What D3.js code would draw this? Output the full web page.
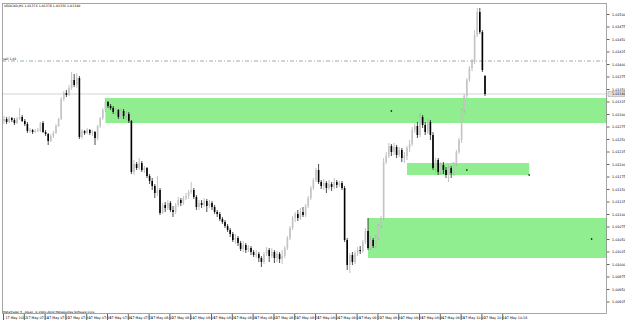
<!DOCTYPE html>
<html>
<head>
<meta charset="utf-8">
<script src="https://cdn.jsdelivr.net/npm/d3@7"></script>
<style>
body { margin: 0; background: #fff; }
text { font-family: "DejaVu Sans", sans-serif; }
</style>
</head>
<body>
<div id="app"></div>
<script>
const symbol = "USDCAD,M1";
const copyright = "MetaTrader 5 , Alpari, \u00a9 2001-2012 MetaQuotes Software Corp.";

// one candle per minute: [open, high, low, close]
const candles = [
  [1.01286,1.01296,1.01280,1.01290],[1.01290,1.01294,1.01280,1.01284],[1.01284,1.01296,1.01282,1.01292],[1.01292,1.01294,1.01284,1.01288],
  [1.01288,1.01292,1.01278,1.01282],[1.01282,1.01294,1.01280,1.01290],[1.01290,1.01312,1.01288,1.01294],[1.01294,1.01298,1.01284,1.01286],
  [1.01286,1.01290,1.01276,1.01280],[1.01280,1.01284,1.01262,1.01266],[1.01266,1.01272,1.01262,1.01268],[1.01268,1.01270,1.01260,1.01264],
  [1.01264,1.01270,1.01262,1.01266],[1.01266,1.01272,1.01264,1.01268],[1.01266,1.01284,1.01264,1.01282],[1.01282,1.01286,1.01262,1.01264],
  [1.01264,1.01268,1.01256,1.01260],[1.01260,1.01262,1.01238,1.01246],[1.01246,1.01260,1.01244,1.01256],[1.01256,1.01266,1.01252,1.01262],
  [1.01262,1.01280,1.01260,1.01276],[1.01276,1.01292,1.01274,1.01290],[1.01290,1.01334,1.01288,1.01330],[1.01330,1.01346,1.01326,1.01342],
  [1.01342,1.01348,1.01334,1.01338],[1.01338,1.01358,1.01336,1.01352],[1.01352,1.01384,1.01348,1.01368],[1.01368,1.01380,1.01354,1.01358],
  [1.01358,1.01382,1.01352,1.01372],[1.01372,1.01376,1.01250,1.01254],[1.01254,1.01270,1.01250,1.01266],[1.01266,1.01268,1.01258,1.01262],
  [1.01262,1.01272,1.01260,1.01268],[1.01268,1.01270,1.01258,1.01262],[1.01262,1.01268,1.01256,1.01264],[1.01264,1.01266,1.01238,1.01252],
  [1.01252,1.01278,1.01248,1.01276],[1.01276,1.01294,1.01272,1.01292],[1.01292,1.01312,1.01288,1.01308],[1.01308,1.01332,1.01304,1.01324],
  [1.01324,1.01326,1.01312,1.01316],[1.01316,1.01320,1.01308,1.01312],[1.01312,1.01316,1.01300,1.01304],[1.01304,1.01312,1.01298,1.01308],
  [1.01308,1.01310,1.01290,1.01294],[1.01294,1.01312,1.01292,1.01306],[1.01306,1.01310,1.01290,1.01296],[1.01296,1.01306,1.01288,1.01300],
  [1.01300,1.01304,1.01282,1.01286],[1.01286,1.01288,1.01180,1.01184],[1.01184,1.01208,1.01178,1.01200],[1.01200,1.01204,1.01188,1.01192],
  [1.01192,1.01212,1.01188,1.01202],[1.01202,1.01206,1.01184,1.01188],[1.01188,1.01196,1.01182,1.01192],[1.01192,1.01194,1.01172,1.01176],
  [1.01176,1.01180,1.01160,1.01166],[1.01166,1.01172,1.01148,1.01156],[1.01156,1.01160,1.01132,1.01142],[1.01142,1.01176,1.01136,1.01148],
  [1.01148,1.01152,1.01098,1.01102],[1.01102,1.01122,1.01100,1.01118],[1.01118,1.01124,1.01104,1.01112],[1.01112,1.01128,1.01108,1.01122],
  [1.01122,1.01126,1.01104,1.01108],[1.01108,1.01116,1.01094,1.01104],[1.01104,1.01122,1.01100,1.01118],[1.01118,1.01134,1.01114,1.01128],
  [1.01128,1.01132,1.01116,1.01122],[1.01122,1.01136,1.01118,1.01132],[1.01132,1.01142,1.01128,1.01136],[1.01136,1.01148,1.01130,1.01144],
  [1.01144,1.01164,1.01140,1.01148],[1.01148,1.01152,1.01130,1.01134],[1.01134,1.01138,1.01108,1.01114],[1.01114,1.01128,1.01108,1.01122],
  [1.01122,1.01128,1.01112,1.01118],[1.01118,1.01132,1.01114,1.01126],[1.01126,1.01130,1.01104,1.01116],[1.01116,1.01128,1.01112,1.01122],
  [1.01122,1.01126,1.01108,1.01114],[1.01114,1.01118,1.01100,1.01104],[1.01104,1.01108,1.01094,1.01100],[1.01100,1.01104,1.01086,1.01090],
  [1.01090,1.01094,1.01080,1.01084],[1.01084,1.01088,1.01072,1.01076],[1.01076,1.01080,1.01064,1.01068],[1.01068,1.01072,1.01054,1.01060],
  [1.01060,1.01064,1.01044,1.01048],[1.01048,1.01060,1.01040,1.01052],[1.01052,1.01056,1.01036,1.01042],[1.01042,1.01046,1.01026,1.01030],
  [1.01030,1.01046,1.01024,1.01038],[1.01038,1.01042,1.01022,1.01028],[1.01028,1.01038,1.01024,1.01032],[1.01032,1.01036,1.01018,1.01024],
  [1.01024,1.01028,1.01014,1.01018],[1.01018,1.01028,1.01012,1.01020],[1.01020,1.01024,1.01004,1.01012],[1.01012,1.01016,1.00994,1.01004],
  [1.01004,1.01024,1.01000,1.01020],[1.01020,1.01034,1.01016,1.01028],[1.01028,1.01032,1.01004,1.01016],[1.01016,1.01032,1.01012,1.01024],
  [1.01024,1.01028,1.01002,1.01012],[1.01012,1.01026,1.01004,1.01020],[1.01020,1.01024,1.01002,1.01010],[1.01010,1.01028,1.01000,1.01016],
  [1.01016,1.01036,1.01012,1.01032],[1.01032,1.01056,1.01028,1.01052],[1.01052,1.01076,1.01048,1.01072],[1.01072,1.01096,1.01068,1.01092],
  [1.01092,1.01104,1.01084,1.01100],[1.01100,1.01108,1.01086,1.01092],[1.01092,1.01112,1.01088,1.01104],[1.01104,1.01114,1.01094,1.01098],
  [1.01098,1.01120,1.01094,1.01116],[1.01116,1.01136,1.01112,1.01132],[1.01132,1.01156,1.01128,1.01152],[1.01152,1.01172,1.01148,1.01168],
  [1.01168,1.01192,1.01164,1.01188],[1.01188,1.01200,1.01160,1.01164],[1.01164,1.01168,1.01150,1.01156],[1.01156,1.01170,1.01148,1.01162],
  [1.01162,1.01166,1.01142,1.01152],[1.01152,1.01168,1.01148,1.01160],[1.01160,1.01164,1.01146,1.01154],[1.01154,1.01172,1.01150,1.01164],
  [1.01164,1.01168,1.01152,1.01158],[1.01158,1.01166,1.01154,1.01162],[1.01162,1.01166,1.01148,1.01152],[1.01152,1.01156,1.01044,1.01048],
  [1.01048,1.01052,1.00988,1.00998],[1.00998,1.01022,1.00982,1.01018],[1.01018,1.01024,1.00998,1.01004],[1.01004,1.01026,1.01000,1.01022],
  [1.01022,1.01034,1.01016,1.01028],[1.01028,1.01036,1.01020,1.01026],[1.01026,1.01048,1.01022,1.01044],[1.01044,1.01072,1.01040,1.01066],
  [1.01066,1.01092,1.01028,1.01032],[1.01032,1.01056,1.01028,1.01048],[1.01048,1.01052,1.01032,1.01036],[1.01036,1.01058,1.01032,1.01052],
  [1.01052,1.01080,1.01048,1.01076],[1.01076,1.01096,1.01072,1.01092],[1.01092,1.01212,1.01088,1.01204],[1.01204,1.01224,1.01200,1.01216],
  [1.01216,1.01242,1.01212,1.01236],[1.01236,1.01240,1.01216,1.01224],[1.01224,1.01242,1.01218,1.01234],[1.01234,1.01238,1.01212,1.01218],
  [1.01218,1.01234,1.01214,1.01228],[1.01228,1.01232,1.01204,1.01212],[1.01212,1.01224,1.01202,1.01216],[1.01216,1.01236,1.01208,1.01232],
  [1.01232,1.01248,1.01224,1.01240],[1.01240,1.01274,1.01236,1.01268],[1.01268,1.01282,1.01262,1.01276],[1.01276,1.01284,1.01252,1.01258],
  [1.01258,1.01302,1.01254,1.01294],[1.01294,1.01298,1.01272,1.01278],[1.01278,1.01284,1.01258,1.01264],[1.01264,1.01290,1.01260,1.01284],
  [1.01284,1.01288,1.01248,1.01258],[1.01258,1.01264,1.01188,1.01192],[1.01192,1.01212,1.01182,1.01208],[1.01208,1.01212,1.01178,1.01184],
  [1.01184,1.01204,1.01178,1.01198],[1.01198,1.01204,1.01180,1.01188],[1.01188,1.01194,1.01172,1.01178],[1.01178,1.01198,1.01164,1.01192],
  [1.01192,1.01196,1.01172,1.01182],[1.01182,1.01204,1.01176,1.01200],[1.01200,1.01228,1.01196,1.01224],[1.01224,1.01252,1.01220,1.01248],
  [1.01248,1.01312,1.01242,1.01308],[1.01308,1.01340,1.01302,1.01336],[1.01336,1.01372,1.01332,1.01368],[1.01368,1.01396,1.01364,1.01392],
  [1.01392,1.01410,1.01386,1.01404],[1.01404,1.01468,1.01400,1.01458],[1.01458,1.01512,1.01454,1.01504],[1.01504,1.01512,1.01460,1.01464],
  [1.01464,1.01468,1.01384,1.01388],[1.01376,1.01378,1.01336,1.01340]
];

const priceTicks = [1.01500,1.01475,1.01450,1.01425,1.01400,1.01375,1.01350,1.01325,1.01300,1.01275,1.01250,1.01225,
  1.01200,1.01175,1.01150,1.01125,1.01100,1.01075,1.01050,1.01025,1.01000,1.00975,1.00950,1.00925];

const timeBars = [0,8,16,24,32,40,48,56,64,72,80,88,96,104,112,120,128,136,144,152,160,168,176,184,192];
const timeLabels = ["17 May 2012","17 May 07:14","17 May 07:22","17 May 07:30","17 May 07:38","17 May 07:46",
  "17 May 07:54","17 May 08:02","17 May 08:10","17 May 08:18","17 May 08:26","17 May 08:34","17 May 08:42",
  "17 May 08:50","17 May 08:58","17 May 09:06","17 May 09:14","17 May 09:22","17 May 09:30","17 May 09:38",
  "17 May 09:46","17 May 09:54","17 May 10:02","17 May 10:10","17 May 10:18"];

// supply / demand rectangles (bar index, price)
const zoneStartBar = [39, 155, 140];
const zoneEndBar = [240, 202, 240];
const zoneTop = [1.01332, 1.01202, 1.01092];
const zoneBottom = [1.01282, 1.01178, 1.01012];

const markBar = [149, 178, 202, 226];
const markPrice = [1.01306, 1.01188, 1.01178, 1.01050];

const sellLevel = 1.01406;
const sellLabel = "sell 1.01";

const width = 625, height = 322;
const plotLeft = 2, plotTop = 3, plotRight = 607, plotBottom = 314;

const svg = d3.select("#app").append("svg")
  .attr("width", width)
  .attr("height", height)
  .style("display", "block");

const x = d3.scaleLinear().domain([0, 232]).range([4, 4 + 2.6 * 232]);
const y = d3.scaleLinear().domain([1.00900, 1.01528]).range([314, 0]);

svg.append("clipPath").attr("id", "plot")
  .append("rect").attr("x", plotLeft).attr("y", plotTop)
  .attr("width", plotRight - plotLeft).attr("height", plotBottom - plotTop);

const plot = svg.append("g").attr("clip-path", "url(#plot)");

// zones
plot.selectAll("rect.zone")
  .data(zoneTop)
  .enter()
  .append("rect")
  .attr("class", "zone")
  .attr("x", (d, i) => x(zoneStartBar[i]))
  .attr("y", d => y(d))
  .attr("width", (d, i) => x(zoneEndBar[i]) - x(zoneStartBar[i]))
  .attr("height", (d, i) => y(zoneBottom[i]) - y(d))
  .attr("fill", "#90ee90");

// sell line
plot.append("line")
  .attr("x1", plotLeft).attr("x2", plotRight)
  .attr("y1", y(sellLevel)).attr("y2", y(sellLevel))
  .attr("stroke", "#7f9f7f")
  .attr("stroke-width", 0.8)
  .attr("stroke-dasharray", "4,2,1,2");

svg.append("text")
  .attr("x", 3).attr("y", y(sellLevel) - 1.5)
  .attr("font-size", 3.2)
  .text(sellLabel);

// bid line
const last = candles[candles.length - 1];
plot.append("line")
  .attr("x1", plotLeft).attr("x2", plotRight)
  .attr("y1", y(last[3])).attr("y2", y(last[3]))
  .attr("stroke", "#c8c8c8")
  .attr("stroke-width", 0.8);

// candles
const c = plot.selectAll("g.candle")
  .data(candles)
  .enter()
  .append("g")
  .attr("class", "candle");

c.append("line")
  .attr("x1", (d, i) => x(i)).attr("x2", (d, i) => x(i))
  .attr("y1", d => y(d[1])).attr("y2", d => y(d[2]))
  .attr("stroke", d => d[3] >= d[0] ? "#a8a8a8" : "#000")
  .attr("stroke-width", 0.7);

c.append("rect")
  .attr("x", (d, i) => x(i) - 0.8)
  .attr("width", 1.6)
  .attr("y", d => y(Math.max(d[0], d[3])))
  .attr("height", d => Math.max(0.7, Math.abs(y(d[0]) - y(d[3]))))
  .attr("fill", d => d[3] >= d[0] ? "#c4c4c4" : "#000");

// small markers
plot.selectAll("rect.mark")
  .data(markBar)
  .enter()
  .append("rect")
  .attr("class", "mark")
  .attr("x", d => x(d) - 0.7)
  .attr("y", (d, i) => y(markPrice[i]) - 0.7)
  .attr("width", 1.4).attr("height", 1.4)
  .attr("fill", "#000");

// frame
svg.append("rect")
  .attr("x", plotLeft + 0.5).attr("y", plotTop + 0.5)
  .attr("width", plotRight - plotLeft - 1).attr("height", plotBottom - plotTop - 1)
  .attr("fill", "none")
  .attr("stroke", "#909090")
  .attr("stroke-width", 0.8);

// price axis
const yAxis = svg.append("g")
  .attr("transform", `translate(${plotRight},0)`)
  .call(d3.axisRight(y).tickValues(priceTicks).tickFormat(d3.format(".5f")).tickSize(2.5).tickSizeOuter(0));
yAxis.select(".domain").remove();
yAxis.selectAll("line").attr("stroke", "#606060");
yAxis.selectAll("text").attr("font-size", 3.3).attr("x", 5).attr("font-family", "DejaVu Sans").attr("fill", "#000");

// current price box
svg.append("rect")
  .attr("x", plotRight + 1).attr("y", y(last[3]) - 2.5)
  .attr("width", 17).attr("height", 5)
  .attr("fill", "#e0e0e0").attr("stroke", "#a0a0a0").attr("stroke-width", 0.5);
svg.append("text")
  .attr("x", plotRight + 5).attr("y", y(last[3]) + 1.1)
  .attr("font-size", 3.3)
  .text(d3.format(".5f")(last[3]));

// time axis
const xAxis = svg.append("g")
  .attr("transform", `translate(0,${plotBottom})`)
  .call(d3.axisBottom(x).tickValues(timeBars).tickFormat((d, i) => timeLabels[i]).tickSize(6).tickSizeOuter(0));
xAxis.select(".domain").remove();
xAxis.selectAll("line").attr("stroke", "#606060").attr("transform", "translate(-1,0)");
xAxis.selectAll("text")
  .attr("text-anchor", "start")
  .attr("font-size", 3.3)
  .attr("font-family", "DejaVu Sans")
  .attr("fill", "#000")
  .attr("y", 3)
  .attr("dy", "0.71em")
  .attr("x", 1);

// header + copyright
svg.append("text")
  .attr("x", 4).attr("y", 6.8)
  .attr("font-size", 3.2)
  .text(`${symbol}  ${last.map(d3.format(".5f")).join(" ")}`);

svg.append("text")
  .attr("x", 3).attr("y", 312.5)
  .attr("font-size", 2.9)
  .text(copyright);
</script>
</body>
</html>
